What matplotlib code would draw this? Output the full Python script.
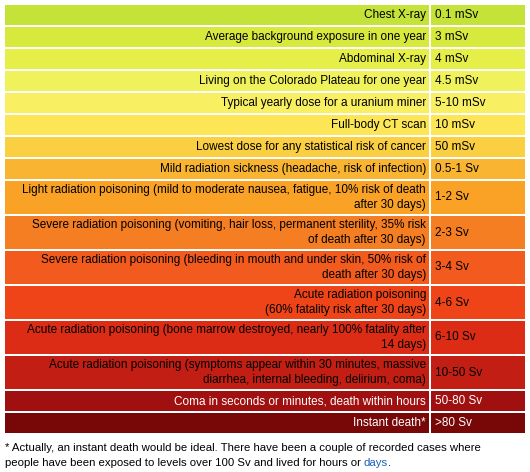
import matplotlib
matplotlib.use("Agg")
import matplotlib.pyplot as plt
from matplotlib.patches import Rectangle

plt.rcParams["font.family"] = ["Liberation Sans", "DejaVu Sans"]

effects = [
    "Chest X-ray",
    "Average background exposure in one year",
    "Abdominal X-ray",
    "Living on the Colorado Plateau for one year",
    "Typical yearly dose for a uranium miner",
    "Full-body CT scan",
    "Lowest dose for any statistical risk of cancer",
    "Mild radiation sickness (headache, risk of infection)",
    "Light radiation poisoning (mild to moderate nausea, fatigue, 10% risk of death\nafter 30 days)",
    "Severe radiation poisoning (vomiting, hair loss, permanent sterility, 35% risk\nof death after 30 days)",
    "Severe radiation poisoning (bleeding in mouth and under skin, 50% risk of\ndeath after 30 days)",
    "Acute radiation poisoning\n(60% fatality risk after 30 days)",
    "Acute radiation poisoning (bone marrow destroyed, nearly 100% fatality after\n14 days)",
    "Acute radiation poisoning (symptoms appear within 30 minutes, massive\ndiarrhea, internal bleeding, delirium, coma)",
    "Coma in seconds or minutes, death within hours",
    "Instant death*",
]
doses = ["0.1 mSv", "3 mSv", "4 mSv", "4.5 mSv", "5-10 mSv", "10 mSv", "50 mSv",
         "0.5-1 Sv", "1-2 Sv", "2-3 Sv", "3-4 Sv", "4-6 Sv", "6-10 Sv", "10-50 Sv",
         "50-80 Sv", ">80 Sv"]
colors = ["#c4e238", "#d6e93c", "#e6ef48", "#f0f25c", "#f8f062", "#fce656", "#fbcf42",
          "#f9b432", "#f9a226", "#f57e22", "#f25a1e", "#ee4418", "#dc2c16", "#c21e14",
          "#a11010", "#780808"]
text_colors = ["black"] * 14 + ["white", "white"]

fig = plt.figure(figsize=(5.3, 4.72), dpi=100)
ax = fig.add_axes([0, 0, 1, 1])
ax.set_xlim(0, 530)
ax.set_ylim(472, 0)
ax.axis("off")

fs = 8.5
x0, xdiv, x1 = 5, 430, 525
y = 5
for eff, dose, col, tc in zip(effects, doses, colors, text_colors):
    h = 35 if "\n" in eff else 22
    ax.add_patch(Rectangle((x0, y), xdiv - x0 - 1, h - 2, color=col, lw=0))
    ax.add_patch(Rectangle((xdiv + 1, y), x1 - xdiv - 1, h - 2, color=col, lw=0))
    cy = y + (h - 2) / 2
    ax.text(xdiv - 4, cy, eff, ha="right", va="center", fontsize=fs, color=tc,
            linespacing=1.3, multialignment="right")
    ax.text(xdiv + 5, cy, dose, ha="left", va="center", fontsize=fs, color=tc)
    y += h

ax.text(5, y + 13, "* Actually, an instant death would be ideal. There have been a couple of recorded cases where",
        ha="left", va="center", fontsize=8.2)
t = ax.text(5, y + 28, "people have been exposed to levels over 100 Sv and lived for hours or",
            ha="left", va="center", fontsize=8.2)
fig.canvas.draw()
bb = t.get_window_extent().transformed(ax.transData.inverted())
d = ax.text(bb.x1 + 3, y + 28, "days", ha="left", va="center", fontsize=8.2, color="#1a5fb4")
fig.canvas.draw()
bb2 = d.get_window_extent().transformed(ax.transData.inverted())
ax.text(bb2.x1, y + 28, ".", ha="left", va="center", fontsize=8.2)

fig.savefig("out.png", dpi=100)
